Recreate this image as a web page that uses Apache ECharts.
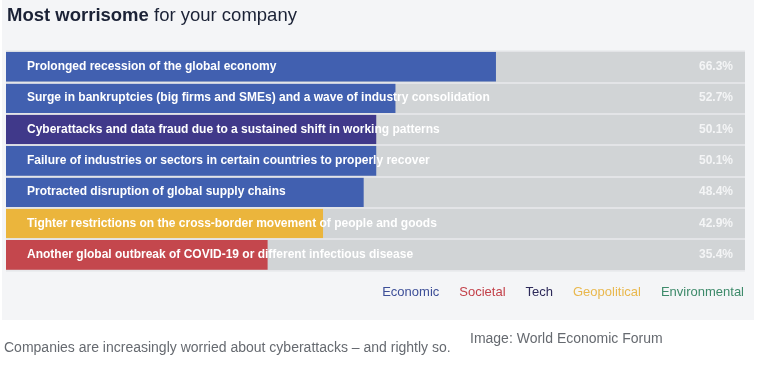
<!DOCTYPE html>
<html>
<head>
<meta charset="utf-8">
<script src="https://cdn.jsdelivr.net/npm/echarts@6/dist/echarts.min.js"></script>
<style>
html,body{margin:0;padding:0;background:#ffffff;}
#chart{width:757px;height:365px;}
</style>
</head>
<body>
<div id="chart"></div>
<script>
const categories = [
  'Prolonged recession of the global economy',
  'Surge in bankruptcies (big firms and SMEs) and a wave of industry consolidation',
  'Cyberattacks and data fraud due to a sustained shift in working patterns',
  'Failure of industries or sectors in certain countries to properly recover',
  'Protracted disruption of global supply chains',
  'Tighter restrictions on the cross-border movement of people and goods',
  'Another global outbreak of COVID-19 or different infectious disease'
];
const values = [66.3, 52.7, 50.1, 50.1, 48.4, 42.9, 35.4];
const riskGroups = ['Economic', 'Economic', 'Tech', 'Economic', 'Economic', 'Geopolitical', 'Societal'];
const legendNames = ['Economic', 'Societal', 'Tech', 'Geopolitical', 'Environmental'];
const barColors = {Economic:'#4160b0', Societal:'#c4474d', Tech:'#40398a', Geopolitical:'#ebb53c', Environmental:'#3e8c6c'};
const legendColors = {Economic:'#3d4f98', Societal:'#c3414a', Tech:'#2d2a5a', Geopolitical:'#e9b84e', Environmental:'#3d8a6a'};
const titleBold = 'Most worrisome';
const titleRest = ' for your company';
const caption = 'Companies are increasingly worried about cyberattacks \u2013 and rightly so.';
const credit = 'Image: World Economic Forum';

const chart = echarts.init(document.getElementById('chart'));
const FONT = '"Liberation Sans", Arial, sans-serif';

const series = legendNames.map(g => ({
  name: g,
  type: 'bar',
  stack: 'all',
  barCategoryGap: '5%',
  itemStyle: {color: barColors[g]},
  silent: true,
  data: values.map((v, i) => riskGroups[i] === g ? v : '-')
}));

chart.setOption({
  animation: false,
  graphic: [
    {type:'rect', z:-100, shape:{x:2, y:0, width:752, height:320}, style:{fill:'#f4f5f7'}},
    {type:'text', left:7, top:6, style:{
      text:'{b|' + titleBold + '}{n|' + titleRest + '}',
      rich:{
        b:{fontFamily:FONT, fontSize:18.5, fontWeight:'bold', fill:'#1b2236'},
        n:{fontFamily:FONT, fontSize:18.5, fontWeight:'normal', fill:'#1b2236'}
      }
    }},
    {type:'text', left:4, top:341, style:{text:caption, fontFamily:FONT, fontSize:14, fill:'#666a70'}},
    {type:'text', left:470, top:332, style:{text:credit, fontFamily:FONT, fontSize:14, fill:'#666a70'}}
  ],
  legend: {
    data: legendNames.map(n => ({name:n, icon:'none', textStyle:{color:legendColors[n]}})),
    right: 8, top: 281,
    itemWidth: 0, itemHeight: 0, itemGap: 20,
    selectedMode: false,
    textStyle: {fontFamily: FONT, fontSize: 13, padding:[0,0,0,-5]}
  },
  grid: {
    left: 6, width: 739, top: 51, height: 219.5,
    show: true, backgroundColor: '#d1d4d6', borderWidth: 0
  },
  xAxis: {type:'value', min:0, max:100, show:false},
  yAxis: [
    {
      type:'category', inverse:true, data:categories, z:10,
      axisLine:{show:false}, axisTick:{show:false},
      splitLine:{show:true, lineStyle:{color:'#e8eaec', width:1.5}},
      axisLabel:{inside:true, margin:21, color:'#ffffff', fontFamily:FONT, fontSize:12, fontWeight:'bold', padding:[4,0,0,0]}
    },
    {
      type:'category', inverse:true, position:'right', z:10,
      data: values.map(v => v.toFixed(1) + '%'),
      axisLine:{show:false}, axisTick:{show:false}, splitLine:{show:false},
      axisLabel:{inside:true, margin:12, color:'#f4f5f6', fontFamily:FONT, fontSize:12, fontWeight:'bold', padding:[4,0,0,0]}
    }
  ],
  series: series
});
</script>
</body>
</html>
